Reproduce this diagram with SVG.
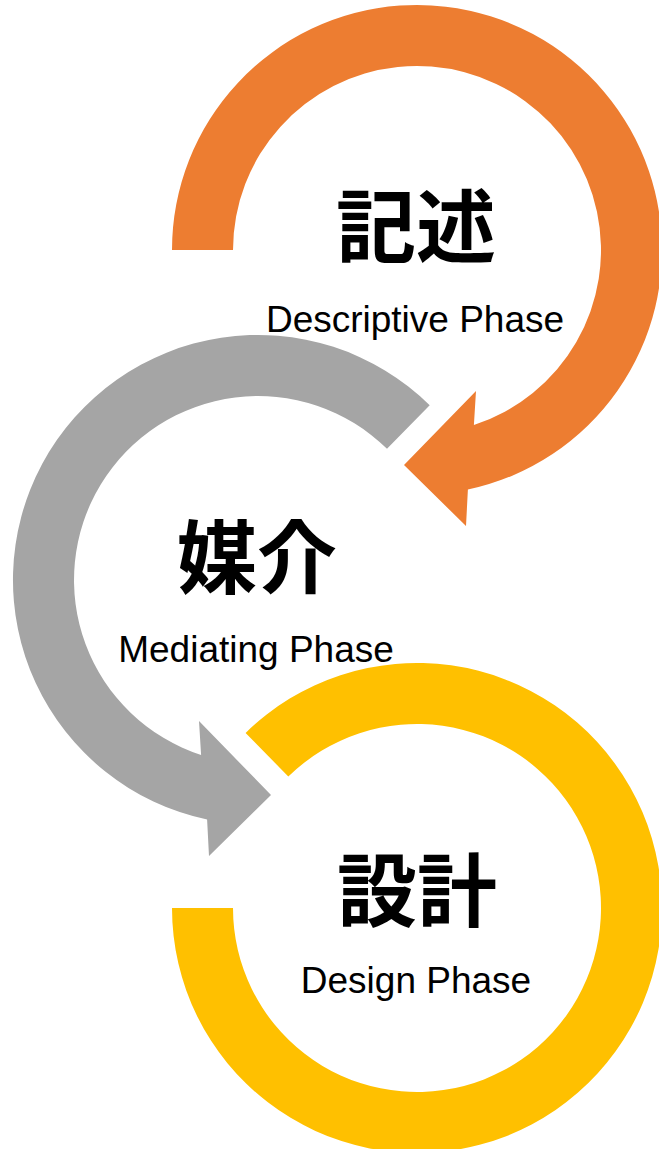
<svg xmlns="http://www.w3.org/2000/svg" width="659" height="1149" viewBox="0 0 659 1149">
  <style>
    .jp { font-family: "Noto Sans CJK JP", "Noto Sans CJK SC", sans-serif; font-weight: 700; font-size: 80px; fill: #000; text-anchor: middle; }
    .en { font-family: "Liberation Sans", Arial, sans-serif; font-size: 37px; fill: #000; text-anchor: middle; }
    .orange { fill: #ED7D31; }
    .gray { fill: #A5A5A5; }
    .yellow { fill: #FFC000; }
  </style>
  <rect width="659" height="1149" fill="#FFFFFF"/>
  <g id="connectors">
    <path class="orange" d="M172,250 A245,245 0 1 1 467.9,489.6 L466,526 L404,465 L476,391 L473.9,425 A184,184 0 1 0 233,250 Z"/>
    <path class="gray" d="M429.7,405.2 A245,245 0 1 0 207.1,819.6 L209,856 L271,795 L199,721 L201.1,755 A184,184 0 1 1 387,448.8 Z"/>
    <path class="yellow" d="M172,908 A245,245 0 1 0 245.6,732.9 L288.3,776.5 A184,184 0 1 1 233,908 Z"/>
  </g>
  <g id="descriptive">
    <text class="jp" x="416" y="256">記述</text>
    <text class="en" x="415" y="332">Descriptive Phase</text>
  </g>
  <g id="mediating">
    <text class="jp" x="257" y="587">媒介</text>
    <text class="en" x="256" y="662">Mediating Phase</text>
  </g>
  <g id="design">
    <text class="jp" x="417" y="920">設計</text>
    <text class="en" x="416" y="993">Design Phase</text>
  </g>
</svg>
